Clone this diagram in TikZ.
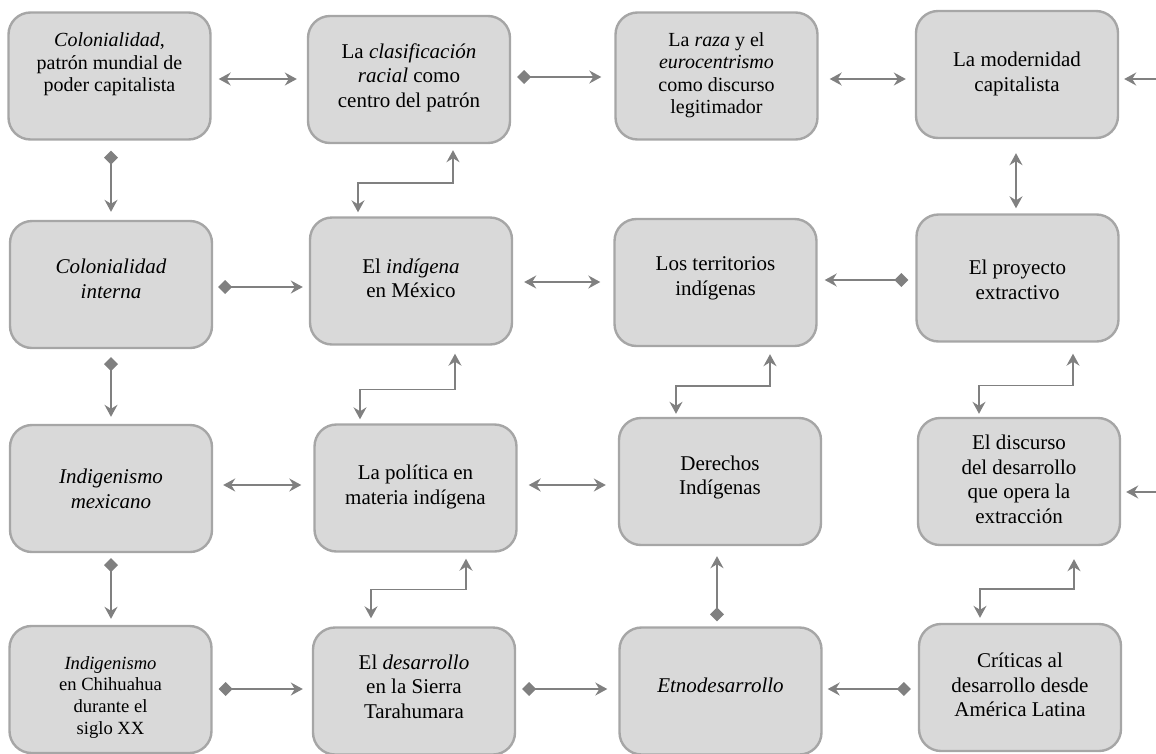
\documentclass[tikz,border=0pt]{standalone}
\usepackage{fontspec}
\setmainfont{Liberation Serif}
\usetikzlibrary{arrows.meta,calc}
\definecolor{boxfill}{HTML}{D9D9D9}
\definecolor{boxline}{HTML}{A6A6A6}
\definecolor{connc}{HTML}{808080}
\tikzset{
  box/.style={draw=boxline, fill=boxfill, line width=2.4pt, rounded corners=22pt,
    minimum width=202pt, minimum height=127pt, inner sep=0pt},
  txt/.style={align=center, inner sep=0pt, font=\fontsize{21}{24.5}\selectfont,
    execute at begin node=\strut, execute at end node=\strut},
  txts/.style={txt, font=\fontsize{20}{22.5}\selectfont},
  txtxs/.style={txt, font=\fontsize{18.6}{21.7}\selectfont},
  connline/.style={draw=connc, line width=1.5pt,
    >={Stealth[length=12pt,width=13pt,inset=4pt]}},
  arrboth/.style={connline, <->},
  arrone/.style={connline, ->},
  arrdia/.style={connline, {Diamond[length=14pt,width=14pt]}->},
}
\begin{document}
\begin{tikzpicture}[x=1pt,y=-1pt]
\useasboundingbox (0,0) rectangle (1156,753);

% boxes
\node[box] (a1) at (109.5,76) {};
\node[box] (a2) at (409,79.5) {};
\node[box] (a3) at (716.5,76) {};
\node[box] (a4) at (1017,74.5) {};
\node[box] (b1) at (111,284.5) {};
\node[box] (b2) at (411,281) {};
\node[box] (b3) at (715.5,282.5) {};
\node[box] (b4) at (1017.5,278) {};
\node[box] (c1) at (111,488.5) {};
\node[box] (c2) at (415.5,488) {};
\node[box] (c3) at (720,481.5) {};
\node[box] (c4) at (1019,481.5) {};
\node[box] (d1) at (110.5,689.5) {};
\node[box] (d2) at (414,691) {};
\node[box] (d3) at (720.5,691) {};
\node[box] (d4) at (1020,687.5) {};

% texts
\node[txts] (ta1) at (109.5,65.5) {\textit{Colonialidad},\\patrón mundial de\\poder capitalista};
\node[txt] (ta2) at (409,79) {La \textit{clasificación}\\\textit{racial} como\\centro del patrón};
\node[txts] (ta3) at (716.5,76.5) {La \textit{raza} y el\\\textit{eurocentrismo}\\como discurso\\legitimador};
\node[txt] (ta4) at (1017,75.5) {La modernidad\\capitalista};
\node[txt] (tb1) at (111,282.5) {\textit{Colonialidad}\\\textit{interna}};
\node[txt] (tb2) at (411,282) {El \textit{indígena}\\en México};
\node[txt] (tb3) at (715.5,279.5) {Los territorios\\indígenas};
\node[txt] (tb4) at (1017.5,283.5) {El proyecto\\extractivo};
\node[txt] (tc1) at (111,492.5) {\textit{Indigenismo}\\\textit{mexicano}};
\node[txt] (tc2) at (415.5,488.5) {La política en\\materia indígena};
\node[txt] (tc3) at (720,479) {Derechos\\Indígenas};
\node[txt] (tc4) at (1019,483) {El discurso\\del desarrollo\\que opera la\\extracción};
\node[txtxs] (td1) at (110.5,698.5) {\textit{Indigenismo}\\en Chihuahua\\durante el\\siglo XX};
\node[txt] (td2) at (414,690) {El \textit{desarrollo}\\en la Sierra\\Tarahumara};
\node[txt] (td3) at (720.5,688) {\textit{Etnodesarrollo}};
\node[txt] (td4) at (1020,688.5) {Críticas al\\desarrollo desde\\América Latina};

% free ends at the right edge
\coordinate (r1) at (1156,79);
\coordinate (r3) at (1156,492);

% row 1
\draw[arrboth] ($(a1.east)+(7,3)$) -- ($(a2.west)+(-10,-0.5)$);
\draw[arrdia] ($(a2.east)+(6,-2.5)$) -- ($(a3.west)+(-13,1)$);
\draw[arrboth] ($(a3.east)+(11,3)$) -- ($(a4.west)+(-9,4.5)$);
\draw[arrone] (r1) -- ($(a4.east)+(5,4.5)$);
% row 2
\draw[arrdia] ($(b1.east)+(5,2.5)$) -- ($(b2.west)+(-6,6)$);
\draw[arrboth] ($(b2.east)+(11,1)$) -- ($(b3.west)+(-13,-0.5)$);
\draw[arrdia] ($(b4.west)+(-7,2)$) -- ($(b3.east)+(7,-2.5)$);
% row 3
\draw[arrboth] ($(c1.east)+(10,-3.5)$) -- ($(c2.west)+(-12,-3)$);
\draw[arrboth] ($(c2.east)+(11,-3)$) -- ($(c3.west)+(-12,3.5)$);
\draw[arrone] (r3) -- ($(c4.east)+(5,10.5)$);
% row 4
\draw[arrdia] ($(d1.east)+(6,-0.5)$) -- ($(d2.west)+(-9,-2)$);
\draw[arrdia] ($(d2.east)+(6,-2)$) -- ($(d3.west)+(-11,-2)$);
\draw[arrdia] ($(d4.west)+(-7,1.5)$) -- ($(d3.east)+(5,-2)$);

% column 1
\draw[arrdia] ($(a1.south)+(1.5,10)$) -- ($(b1.north)+(0,-8)$);
\draw[arrdia] ($(b1.south)+(0,8)$) -- ($(c1.north)+(0,-7)$);
\draw[arrdia] ($(c1.south)+(0,5)$) -- ($(d1.north)+(0.5,-6)$);

% column 2 elbows
\draw[arrboth] ($(b2.north)+(-53,-4)$) |- ($(a2.south)+(44,39)$) -- ($(a2.south)+(44,6)$);
\draw[arrboth] ($(c2.north)+(-55.5,-4)$) |- ($(b2.south)+(44,44)$) -- ($(b2.south)+(44,8)$);
\draw[arrboth] ($(d2.north)+(-43,-8)$) |- ($(c2.south)+(50.5,37)$) -- ($(c2.south)+(50.5,6)$);

% column 3
\draw[arrboth] ($(c3.north)+(-44,-3)$) |- ($(b3.south)+(54.5,39)$) -- ($(b3.south)+(54.5,7)$);
\draw[arrdia] ($(d3.north)+(-3.5,-5)$) -- ($(c3.south)+(-3,10)$);

% column 4
\draw[arrboth] ($(a4.south)+(-1,14)$) -- ($(b4.north)+(-1.5,-5)$);
\draw[arrboth] ($(c4.north)+(-40,-3)$) |- ($(b4.south)+(55.5,43)$) -- ($(b4.south)+(55.5,11)$);
\draw[arrboth] ($(d4.north)+(-40,-5)$) |- ($(c4.south)+(55,43)$) -- ($(c4.south)+(55,13)$);
\end{tikzpicture}
\end{document}
